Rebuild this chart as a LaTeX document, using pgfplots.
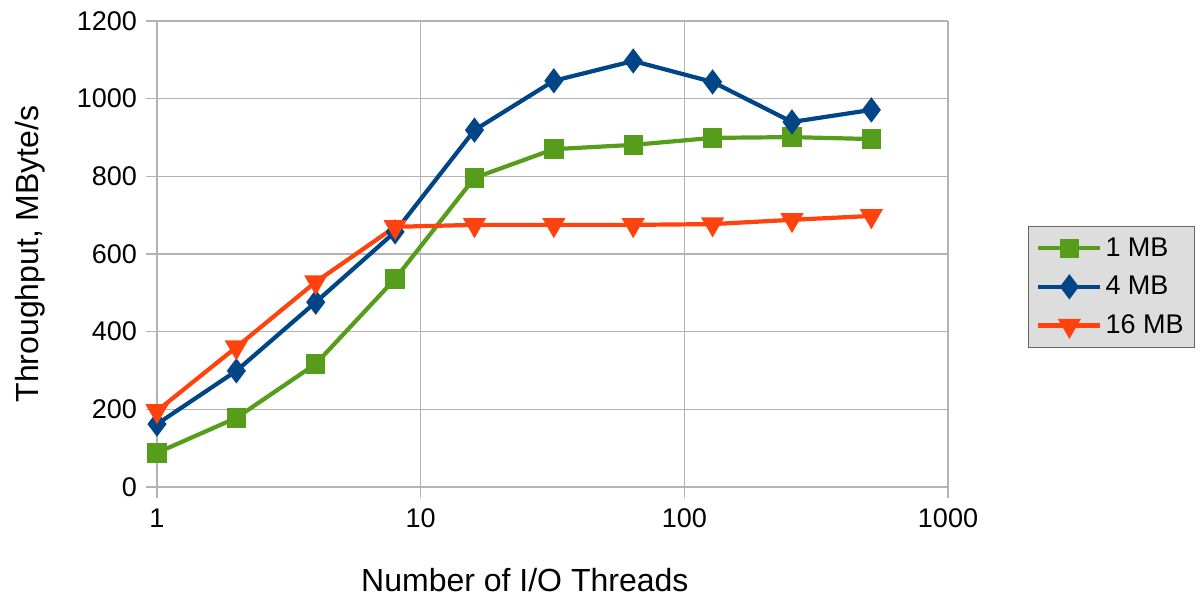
\documentclass[border=0pt]{standalone}
\usepackage{pgfplots}
\pgfplotsset{compat=1.18}
\usepackage{fontspec}
\setmainfont{Liberation Sans}
\definecolor{cgreen}{HTML}{579D1C}
\definecolor{cblue}{HTML}{004586}
\definecolor{corange}{HTML}{FF420E}
\definecolor{cgrid}{HTML}{B3B3B3}
\definecolor{clegend}{HTML}{DDDDDD}
\begin{document}
\begin{tikzpicture}
\begin{axis}[
  name=ax,
  scale only axis,
  width=395.5pt, height=233pt,
  xmode=log, log basis x=10,
  xmin=1, xmax=1000, ymin=0, ymax=1200,
  xtick={1,10,100,1000}, xticklabels={1,10,100,1000},
  ytick={0,200,400,600,800,1000,1200},
  xminorticks=false, yminorticks=false,
  /pgf/number format/assume math mode=true,
  /pgf/number format/1000 sep={},
  grid=major,
  major grid style={cgrid, line width=0.6pt},
  axis line style={cgrid, line width=0.6pt},
  axis x line*=bottom, axis y line*=left,
  tick style={cgrid, line width=0.6pt},
  tick align=outside, major tick length=5.5pt,
  tick label style={font=\fontsize{13.5}{15}\selectfont},
  xticklabel style={yshift=-2pt},
  yticklabel style={xshift=-1pt},
  xlabel={Number of I/O Threads},
  ylabel={Throughput, MByte/s},
  label style={font=\fontsize{16}{18}\selectfont},
  xlabel style={at={(axis description cs:0.465,0)}, anchor=center, yshift=-46.5pt},
  ylabel style={at={(axis description cs:0,0.5)}, anchor=center, yshift=63.5pt},
  legend style={at={(1.101,0.56)}, anchor=north west, fill=clegend, draw=black!60,
    font=\fontsize{13.5}{15}\selectfont, row sep=5.5pt, inner sep=4pt,
    nodes={inner sep=1.5pt}},
  legend cell align=left,
  legend image code/.code={\draw[mark repeat=2,mark phase=2] plot coordinates {(0pt,0pt) (15.5pt,0pt) (31pt,0pt)};},
]
\addplot[cgreen, line width=2.1pt, mark=square*, mark size=3.8pt, mark options={solid}]
coordinates {(1,88) (2,178) (4,317) (8,536) (16,796) (32,870) (64,881) (128,899) (256,901) (512,896)};
\addlegendentry{1 MB}
\addplot[cblue, line width=2.1pt, mark=diamond*, mark size=4.6pt, mark options={solid}]
coordinates {(1,162) (2,299) (4,476) (8,657) (16,919) (32,1046) (64,1097) (128,1043) (256,940) (512,971)};
\addlegendentry{4 MB}
\addplot[corange, line width=2.1pt, mark=triangle*, mark size=4.6pt, mark options={solid, rotate=180}]
coordinates {(1,196) (2,360) (4,528) (8,670) (16,675) (32,675) (64,675) (128,677) (256,688) (512,698)};
\addlegendentry{16 MB}
\end{axis}
\path[use as bounding box] ([shift={(-78.5pt,-58.5pt)}]ax.south west) rectangle ([shift={(127pt,10.5pt)}]ax.north east);
\end{tikzpicture}
\end{document}
